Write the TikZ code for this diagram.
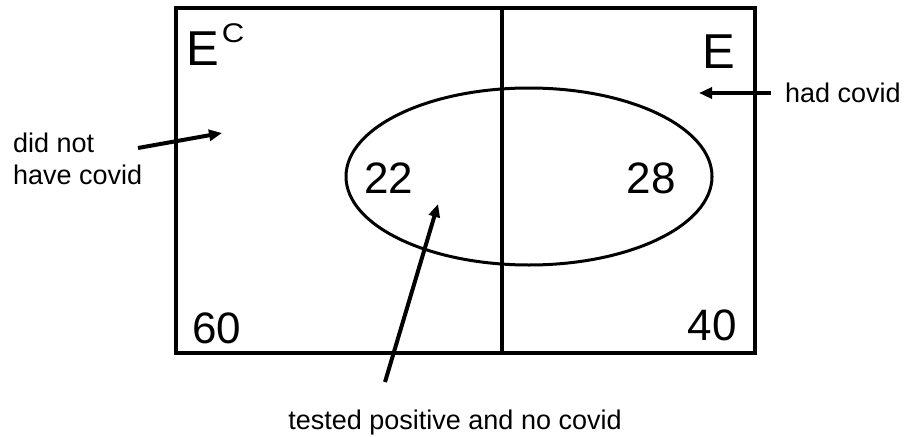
\documentclass[tikz,border=0pt]{standalone}
\usepackage{fontspec}
\setmainfont{Liberation Sans}
\usetikzlibrary{arrows.meta}
\begin{document}
\begin{tikzpicture}[x=1pt,y=-1pt,
  frame/.style={line width=4pt},
  oval/.style={line width=3pt},
  pointer/.style={line width=4pt,-{Triangle[length=13pt,width=11pt]}},
  lbl/.style={font=\fontsize{27}{32}\selectfont,inner sep=0pt},
  num/.style={font=\fontsize{44}{44}\selectfont,inner sep=0pt},
  setname/.style={font=\fontsize{49}{49}\selectfont,inner sep=0pt}]
\useasboundingbox (0,0) rectangle (904,436);
\draw[frame] (176,8) rectangle (755,353);
\draw[frame] (502,8) -- (502,353);
\draw[oval] (529,176.5) ellipse [x radius=183, y radius=88.5];
\node[setname,anchor=base west] (ec) at (186,65) {E\hspace{3pt}\raisebox{23pt}{\scalebox{1.15}[1]{\fontsize{27}{27}\selectfont C}}};
\node[setname,anchor=base west] (e) at (702,69) {E};
\node[num] (n22) at (389,178) {22};
\node[num] (n28) at (651,178) {28};
\node[num] (n60) at (217,328) {60};
\node[num] (n40) at (712,325) {40};
\node[lbl,align=left,anchor=west] (dnh) at (13,158.5) {did not\\have covid};
\node[lbl,anchor=west] (had) at (785,93) {had covid};
\node[lbl,anchor=base] (tp) at (455,429) {tested positive and no covid};
\coordinate (a1s) at (138,148);
\coordinate (a1e) at (222,133);
\coordinate (a2s) at (771,93);
\coordinate (a2e) at (699,93);
\coordinate (a3s) at (385,382);
\coordinate (a3e) at (438,204);
\draw[pointer] (a1s) -- (a1e);
\draw[pointer] (a2s) -- (a2e);
\draw[pointer] (a3s) -- (a3e);
\end{tikzpicture}
\end{document}
